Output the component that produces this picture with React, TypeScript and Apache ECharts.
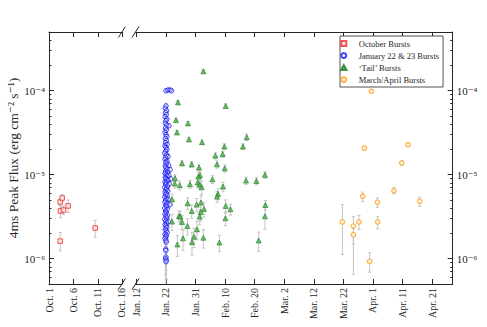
import React, { useEffect, useRef } from 'react';
import * as echarts from 'echarts';

// ---- tick positions / labels ----
const OCT_TICKS = [1, 6, 11, 16];
const OCT_LABELS = ['Oct. 1', 'Oct. 6', 'Oct. 11', 'Oct. 16'];
const JAN_TICKS = [12, 22, 32, 42, 52, 62, 72, 82, 92, 102, 112];
const JAN_LABELS = ['Jan. 12', 'Jan. 22', 'Jan. 31', 'Feb. 10', 'Feb. 20', 'Mar. 2', 'Mar. 12', 'Mar. 22', 'Apr. 1', 'Apr. 11', 'Apr. 21'];
const Y_MAJOR = [1e-6, 1e-5, 1e-4];
const Y_LABELS = ['10⁻⁶', '10⁻⁵', '10⁻⁴'];
const Y_MINOR = [
  6e-7, 7e-7, 8e-7, 9e-7,
  2e-6, 3e-6, 4e-6, 5e-6, 6e-6, 7e-6, 8e-6, 9e-6,
  2e-5, 3e-5, 4e-5, 5e-5, 6e-5, 7e-5, 8e-5, 9e-5,
  2e-4, 3e-4, 4e-4,
];

const SERIES_NAMES = ['October Bursts', 'January 22 & 23 Bursts', '‘Tail’ Bursts', 'March/April Bursts'];

// ---- data: [day, peak flux, lower, upper] ----
const OCT_BURSTS = [
  [3.22, 4.73e-6, 4.3e-6, 5.2e-6],
  [3.63, 5.28e-6, 4.75e-6, 5.85e-6],
  [3.28, 3.70e-6, 3.1e-6, 4.2e-6],
  [3.90, 3.80e-6, 3.35e-6, 4.25e-6],
  [4.87, 4.25e-6, 3.55e-6, 5.0e-6],
  [3.22, 1.62e-6, 1.24e-6, 2.05e-6],
  [10.47, 2.32e-6, 1.8e-6, 2.86e-6],
];

// [day, peak flux, fractional error]
const JAN_BURSTS = [
  [22.0, 1.00e-4, 0.03], [22.7, 1.02e-4, 0.03], [23.4, 1.02e-4, 0.03], [23.9, 1.00e-4, 0.03],
  [22.0, 6.6e-5, 0.05], [21.8, 6.2e-5, 0.05], [22.2, 5.8e-5, 0.05], [21.9, 5.5e-5, 0.05],
  [22.1, 5.2e-5, 0.05], [21.7, 4.9e-5, 0.05], [22.3, 4.6e-5, 0.05], [22.0, 4.4e-5, 0.05],
  [21.8, 4.1e-5, 0.05], [22.2, 3.9e-5, 0.05], [23.0, 3.82e-5, 0.05], [21.9, 3.6e-5, 0.05],
  [22.1, 3.4e-5, 0.05], [21.7, 3.2e-5, 0.05], [22.0, 3.0e-5, 0.06], [22.3, 2.85e-5, 0.06],
  [21.8, 2.7e-5, 0.06], [22.1, 2.55e-5, 0.06], [21.9, 2.4e-5, 0.06], [22.4, 2.3e-5, 0.06],
  [21.7, 2.2e-5, 0.06], [22.0, 2.1e-5, 0.06], [22.3, 2.0e-5, 0.06], [21.9, 1.9e-5, 0.06],
  [21.6, 1.8e-5, 0.06], [22.2, 1.72e-5, 0.06], [22.7, 1.65e-5, 0.06], [21.9, 1.6e-5, 0.06],
  [21.7, 1.52e-5, 0.06], [22.3, 1.45e-5, 0.06], [22.0, 1.4e-5, 0.07], [22.2, 1.33e-5, 0.07],
  [22.9, 1.3e-5, 0.07], [21.8, 1.27e-5, 0.07], [22.0, 1.21e-5, 0.07], [22.4, 1.16e-5, 0.07],
  [23.4, 1.15e-5, 0.07], [21.9, 1.1e-5, 0.07], [22.6, 1.07e-5, 0.07], [21.7, 1.04e-5, 0.07],
  [22.1, 1.0e-5, 0.07], [23.0, 9.8e-6, 0.07], [22.4, 9.6e-6, 0.07], [21.8, 9.3e-6, 0.07],
  [22.0, 9.0e-6, 0.07], [23.6, 8.9e-6, 0.07], [22.3, 8.7e-6, 0.07], [22.7, 8.5e-6, 0.07],
  [21.7, 8.2e-6, 0.08], [22.1, 8.0e-6, 0.08], [23.1, 7.8e-6, 0.08], [21.9, 7.6e-6, 0.08],
  [22.5, 7.3e-6, 0.08], [21.6, 7.1e-6, 0.08], [22.2, 6.9e-6, 0.08], [22.0, 6.6e-6, 0.08],
  [22.6, 6.4e-6, 0.08], [21.7, 6.2e-6, 0.08], [22.2, 6.0e-6, 0.08], [21.9, 5.8e-6, 0.08],
  [22.4, 5.6e-6, 0.08], [21.6, 5.4e-6, 0.08], [22.1, 5.2e-6, 0.09], [22.7, 5.1e-6, 0.09],
  [21.9, 4.9e-6, 0.09], [21.7, 4.7e-6, 0.09], [22.3, 4.55e-6, 0.09], [23.3, 4.4e-6, 0.09],
  [22.0, 4.35e-6, 0.09], [22.2, 4.15e-6, 0.09], [21.6, 4.0e-6, 0.09], [22.4, 3.85e-6, 0.1],
  [21.9, 3.7e-6, 0.1], [22.1, 3.55e-6, 0.1], [21.7, 3.4e-6, 0.1], [22.5, 3.3e-6, 0.1],
  [22.0, 3.2e-6, 0.1], [22.3, 3.05e-6, 0.1], [21.6, 2.95e-6, 0.1], [22.0, 2.8e-6, 0.11],
  [22.8, 2.75e-6, 0.11], [22.2, 2.65e-6, 0.11], [21.7, 2.55e-6, 0.11], [22.0, 2.45e-6, 0.12],
  [22.3, 2.35e-6, 0.12], [21.8, 2.25e-6, 0.12], [22.1, 2.15e-6, 0.12], [22.4, 2.05e-6, 0.13],
  [21.7, 1.97e-6, 0.13], [22.2, 1.9e-6, 0.13], [21.9, 1.82e-6, 0.14], [21.7, 1.74e-6, 0.14],
  [22.0, 1.66e-6, 0.15], [22.1, 1.58e-6, 0.15], [21.9, 1.3e-6, 0.2], [22.0, 1.25e-6, 0.2],
  [22.0, 1.05e-6, 0.3], [21.9, 1.0e-6, 0.35], [22.1, 9.6e-7, 0.4], [22.0, 9.2e-7, 0.5],
];

const TAIL_BURSTS = [
  [34.67, 1.70e-4, 0.04], [26.07, 7.27e-5, 0.05], [42.21, 6.57e-5, 0.06], [25.40, 4.47e-5, 0.05],
  [29.46, 4.08e-5, 0.05], [25.73, 3.19e-5, 0.06], [29.79, 2.63e-5, 0.06], [34.19, 2.44e-5, 0.06],
  [49.31, 2.80e-5, 0.09], [41.77, 2.17e-5, 0.08], [48.06, 2.17e-5, 0.08], [38.73, 1.69e-5, 0.09],
  [41.19, 1.76e-5, 0.08], [27.43, 1.37e-5, 0.07], [30.71, 1.33e-5, 0.08], [39.27, 1.33e-5, 0.10],
  [33.18, 1.22e-5, 0.09], [41.87, 1.19e-5, 0.10], [33.52, 9.86e-6, 0.10], [32.97, 9.52e-6, 0.12],
  [25.06, 9.08e-6, 0.10], [37.71, 8.83e-6, 0.11], [55.50, 9.96e-6, 0.09], [49.08, 8.53e-6, 0.10],
  [52.60, 8.43e-6, 0.10], [24.96, 7.85e-6, 0.12], [26.65, 7.50e-6, 0.12], [30.13, 7.71e-6, 0.11],
  [32.74, 8.07e-6, 0.13], [33.41, 7.64e-6, 0.12], [34.09, 7.10e-6, 0.18], [41.30, 7.23e-6, 0.12],
  [39.60, 5.90e-6, 0.15], [39.27, 5.49e-6, 0.15], [24.04, 5.10e-6, 0.15], [29.35, 4.57e-6, 0.16],
  [32.40, 4.41e-6, 0.18], [33.85, 4.66e-6, 0.20], [42.21, 4.25e-6, 0.18], [43.80, 3.88e-6, 0.15],
  [55.64, 4.36e-6, 0.13], [34.87, 3.91e-6, 0.20], [30.71, 3.70e-6, 0.18], [33.75, 3.60e-6, 0.22],
  [26.41, 3.22e-6, 0.15], [26.88, 3.17e-6, 0.16], [33.41, 3.17e-6, 0.20], [42.11, 3.03e-6, 0.18],
  [55.50, 3.20e-6, 0.30], [24.04, 2.77e-6, 0.22], [27.43, 2.74e-6, 0.20], [29.25, 2.45e-6, 0.22],
  [32.50, 2.24e-6, 0.25], [27.76, 1.75e-6, 0.28], [31.49, 1.83e-6, 0.26], [34.67, 1.78e-6, 0.25],
  [30.81, 1.58e-6, 0.30], [40.08, 1.56e-6, 0.22], [25.87, 1.48e-6, 0.28], [53.37, 1.65e-6, 0.26],
];

const MARAPR_BURSTS = [
  [91.50, 9.84e-5, 9.6e-5, 1.01e-4],
  [89.13, 2.07e-5, 2.0e-5, 2.14e-5],
  [103.88, 2.27e-5, 2.2e-5, 2.34e-5],
  [101.75, 1.38e-5, 1.3e-5, 1.46e-5],
  [99.14, 6.47e-6, 5.9e-6, 7.0e-6],
  [88.56, 5.53e-6, 4.8e-6, 6.2e-6],
  [93.53, 4.70e-6, 4.1e-6, 5.3e-6],
  [107.84, 4.83e-6, 4.2e-6, 5.4e-6],
  [81.69, 2.74e-6, 1.12e-6, 4.4e-6],
  [85.41, 2.45e-6, 6.5e-7, 3.17e-6],
  [87.30, 2.74e-6, 2.24e-6, 3.28e-6],
  [93.63, 2.74e-6, 2.26e-6, 3.17e-6],
  [85.41, 1.93e-6, 1.5e-6, 2.3e-6],
  [90.90, 9.29e-7, 6.92e-7, 1.18e-6],
];

// ---- styling ----
const FONT = '"Liberation Serif", "DejaVu Serif", serif';
const AX = '#262626';
const ERR = '#c4c4c4';
const Y_MIN = 5e-7;
const Y_MAX = 5e-4;
const ICON_SQUARE = 'path://M0,0H10V10H0Z';
const ICON_TRIANGLE = 'path://M5,0L10,9H0Z';
const ICON_CIRCLE = 'circle';

const withBounds = (rows: number[][]) => rows.map(([t, v, e]) => [t, v, v * (1 - e), v * (1 + e)]);

function errRender(params: any, api: any) {
  const x = api.value(0);
  const lo = api.value(2);
  const hi = api.value(3);
  const cs = params.coordSys;
  const pLo = api.coord([x, lo]);
  const pHi = api.coord([x, hi]);
  const top = Math.max(cs.y, pHi[1]);
  const bot = Math.min(cs.y + cs.height, pLo[1]);
  const cx = pLo[0];
  const st = { stroke: ERR, lineWidth: 1 };
  const children: any[] = [{ type: 'line', shape: { x1: cx, y1: top, x2: cx, y2: bot }, style: st }];
  if (pHi[1] >= cs.y) children.push({ type: 'line', shape: { x1: cx - 1.6, y1: pHi[1], x2: cx + 1.6, y2: pHi[1] }, style: st });
  if (pLo[1] <= cs.y + cs.height) children.push({ type: 'line', shape: { x1: cx - 1.6, y1: pLo[1], x2: cx + 1.6, y2: pLo[1] }, style: st });
  return { type: 'group', children };
}

function xAxis(gridIndex: number, min: number, max: number, ticks: number[], labels: string[], position: string, showLabel: boolean) {
  return {
    type: 'value', gridIndex, min, max, position,
    axisLine: { show: true, onZero: false, lineStyle: { color: AX, width: 1 } },
    axisTick: { show: true, inside: true, length: 5, customValues: ticks, lineStyle: { color: AX } },
    axisLabel: {
      show: showLabel, customValues: ticks, rotate: 90, margin: 4,
      fontFamily: FONT, fontSize: 10, color: AX,
      formatter: (v: number) => { const i = ticks.indexOf(v); return i >= 0 ? labels[i] : ''; },
    },
    splitLine: { show: false },
  };
}

function yAxis(gridIndex: number, position: string, minor: boolean, extra: any = {}) {
  return {
    type: 'log', logBase: 10, gridIndex, position, min: Y_MIN, max: Y_MAX,
    axisLine: { show: !minor, lineStyle: { color: AX, width: 1 } },
    axisTick: { show: true, inside: true, length: minor ? 2.5 : 5, customValues: minor ? Y_MINOR : Y_MAJOR, lineStyle: { color: AX } },
    axisLabel: {
      show: !minor, customValues: Y_MAJOR, margin: 4,
      fontFamily: FONT, fontSize: 11, color: AX,
      formatter: (v: number) => {
        const i = Y_MAJOR.findIndex((m) => Math.abs(m - v) / m < 1e-6);
        return i >= 0 ? Y_LABELS[i] : '';
      },
    },
    splitLine: { show: false },
    ...extra,
  };
}

function breakMarks() {
  const xs = [121.9, 135.5];
  const ys = [32, 284];
  const out: any[] = [];
  xs.forEach((cx) => ys.forEach((cy) => {
    out.push({
      type: 'line', z: 100,
      shape: { x1: cx - 3.5, y1: cy + 5.5, x2: cx + 3.5, y2: cy - 5.5 },
      style: { stroke: AX, lineWidth: 1 },
    });
  }));
  return out;
}

export default function App() {
  const ref = useRef<HTMLDivElement>(null);
  useEffect(() => {
    const chart = echarts.init(ref.current!, null, { renderer: 'svg' });
    const janData = withBounds(JAN_BURSTS);
    const tailData = withBounds(TAIL_BURSTS);
    const option: any = {
      animation: false,
      backgroundColor: '#ffffff',
      grid: [
        { left: 49, top: 32, width: 72.9, height: 252 },
        { left: 135.5, top: 32, width: 317.2, height: 252 },
      ],
      xAxis: [
        xAxis(0, 0.9, 16, OCT_TICKS, OCT_LABELS, 'bottom', true),
        xAxis(0, 0.9, 16, OCT_TICKS, OCT_LABELS, 'top', false),
        xAxis(1, 11.7, 119, JAN_TICKS, JAN_LABELS, 'bottom', true),
        xAxis(1, 11.7, 119, JAN_TICKS, JAN_LABELS, 'top', false),
      ],
      yAxis: [
        yAxis(0, 'left', false, {
          name: '4ms Peak Flux (erg cm⁻² s⁻¹)', nameLocation: 'middle', nameGap: 24,
          nameTextStyle: { fontFamily: FONT, fontSize: 13.5, color: AX },
        }),
        yAxis(0, 'left', true),
        yAxis(1, 'right', false),
        yAxis(1, 'right', true),
      ],
      legend: {
        orient: 'vertical', left: 340, top: 36,
        itemWidth: 20, itemHeight: 5, itemGap: 3,
        padding: [3, 4, 3, 0],
        borderColor: AX, borderWidth: 0.8, backgroundColor: '#ffffff',
        textStyle: { fontFamily: FONT, fontSize: 8.5, color: AX, lineHeight: 9 },
        selectedMode: false,
        symbolKeepAspect: true,
        data: [
          { name: SERIES_NAMES[0], icon: ICON_SQUARE },
          { name: SERIES_NAMES[1], icon: ICON_CIRCLE },
          { name: SERIES_NAMES[2], icon: ICON_TRIANGLE },
          { name: SERIES_NAMES[3], icon: ICON_CIRCLE },
        ],
      },
      graphic: breakMarks(),
      series: [
        { type: 'custom', name: 'oct-err', xAxisIndex: 0, yAxisIndex: 0, renderItem: errRender, data: OCT_BURSTS, silent: true },
        {
          type: 'scatter', name: SERIES_NAMES[0], xAxisIndex: 0, yAxisIndex: 0, symbol: 'rect', symbolSize: 4.5,
          itemStyle: { color: '#ffe9e9', borderColor: '#ee2a2a', borderWidth: 1 }, data: OCT_BURSTS,
        },
        { type: 'custom', name: 'jan-err', xAxisIndex: 2, yAxisIndex: 2, renderItem: errRender, data: janData, silent: true },
        {
          type: 'scatter', name: SERIES_NAMES[1], xAxisIndex: 2, yAxisIndex: 2, symbol: 'circle', symbolSize: 4.5,
          itemStyle: { color: 'rgba(255,255,255,0.3)', borderColor: '#1010ff', borderWidth: 1 }, data: janData,
        },
        { type: 'custom', name: 'tail-err', xAxisIndex: 2, yAxisIndex: 2, renderItem: errRender, data: tailData, silent: true },
        {
          type: 'scatter', name: SERIES_NAMES[2], xAxisIndex: 2, yAxisIndex: 2, symbol: 'triangle', symbolSize: 5,
          itemStyle: { color: '#4fb34f', borderColor: '#1f7a1f', borderWidth: 0.8 }, data: tailData,
        },
        { type: 'custom', name: 'ma-err', xAxisIndex: 2, yAxisIndex: 2, renderItem: errRender, data: MARAPR_BURSTS, silent: true },
        {
          type: 'scatter', name: SERIES_NAMES[3], xAxisIndex: 2, yAxisIndex: 2, symbol: 'circle', symbolSize: 4.5,
          itemStyle: { color: '#fff6e6', borderColor: '#ffa31a', borderWidth: 1.2 }, data: MARAPR_BURSTS,
        },
      ],
    };
    chart.setOption(option);
    return () => chart.dispose();
  }, []);
  return <div ref={ref} style={{ position: 'absolute', left: 0, top: 0, width: 487, height: 327 }} />;
}
